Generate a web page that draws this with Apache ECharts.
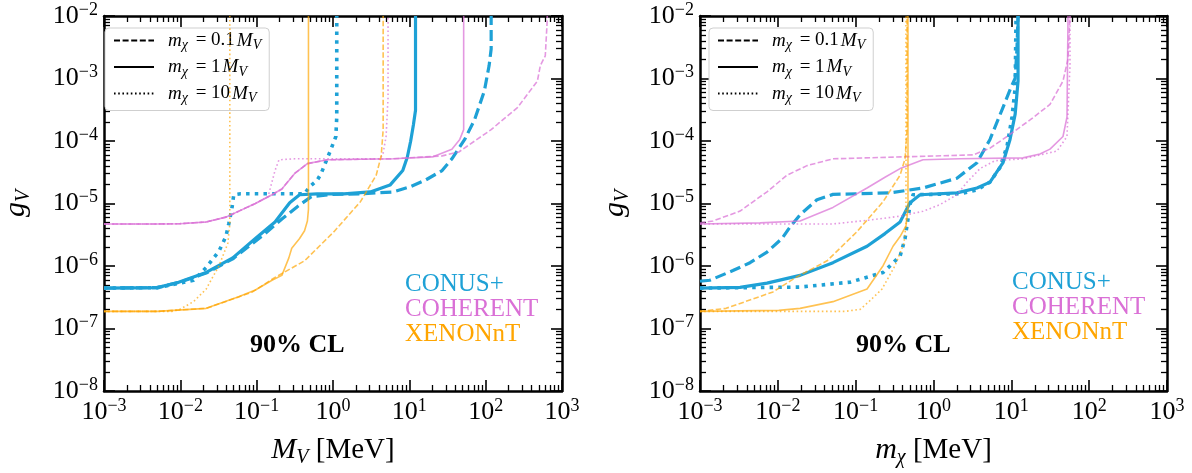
<!DOCTYPE html>
<html><head><meta charset="utf-8">
<script src="https://cdn.jsdelivr.net/npm/echarts@6/dist/echarts.min.js"></script>
<style>html,body{margin:0;padding:0;background:#fff}#c{width:1192px;height:473px}</style>
</head><body><div id="c"></div><script>
// ---------------- data (x in MeV, y = g_V) ----------------
const X_TICK_EXP = [-3,-2,-1,0,1,2,3];
const Y_TICK_EXP = [-8,-7,-6,-5,-4,-3,-2];
const MINOR_MULT = [2,3,4,5,6,7,8,9];
const X_DECADES = [-3,-2,-1,0,1,2];
const Y_DECADES = [-8,-7,-6,-5,-4,-3];
const LEGEND_COEF = ['0.1','1','10'];
const EXPERIMENTS = ['CONUS+','COHERENT','XENONnT'];

// Left panel: x = M_V
const L_conus_dash = [[1e-3,4.43e-7],[5e-3,4.5e-7],[9.5e-3,5.45e-7],[0.0218,7.7e-7],[0.0486,1.3e-6],[0.0962,2.5e-6],[0.129,3.3e-6],[0.214,5.64e-6],[0.344,8.97e-6],[0.521,1.29e-5],[1.0,1.4e-5],[2.29,1.43e-5],[6.1,1.53e-5],[10.1,1.84e-5],[16.2,2.36e-5],[26.9,3.37e-5],[36.1,5.19e-5],[53.1,1.06e-4],[71.4,2.17e-4],[96.2,6.35e-4],[111,1.61e-3],[118,2.96e-3],[118,1e-2]];
const L_conus_solid = [[1e-3,4.43e-7],[5e-3,4.5e-7],[9.5e-3,5.5e-7],[0.0218,7.9e-7],[0.0486,1.35e-6],[0.0962,2.75e-6],[0.174,5.06e-6],[0.271,1.03e-5],[0.365,1.38e-5],[0.62,1.43e-5],[1.39,1.43e-5],[3.08,1.53e-5],[5.58,1.97e-5],[8.2,3.37e-5],[9.4,5.5e-5],[10.4,9.9e-5],[11.3,1.8e-4],[12.05,3.1e-4],[12.05,1e-2]];
const L_conus_dot = [[1e-3,4.43e-7],[5e-3,4.5e-7],[9.8e-3,5.3e-7],[0.0149,5.92e-7],[0.0218,9.42e-7],[0.0321,1.73e-6],[0.0395,2.96e-6],[0.0431,4.71e-6],[0.0472,8.07e-6],[0.0501,1.38e-5],[0.0617,1.43e-5],[0.424,1.43e-5],[0.491,1.84e-5],[0.622,2.36e-5],[0.700,3.03e-5],[0.942,7.41e-5],[1.09,1.18e-4],[1.12,2.42e-4],[1.12,1e-2]];
const L_coh_dash = [[1e-3,4.71e-6],[5e-3,4.71e-6],[0.0098,4.75e-6],[0.0218,5.06e-6],[0.0395,6.05e-6],[0.0962,1.0e-5],[0.159,1.38e-5],[0.214,1.71e-5],[0.315,3.03e-5],[0.462,4.34e-5],[0.838,5.0e-5],[6.1,5.19e-5],[26.9,5.78e-5],[44.5,6.67e-5],[118,1.52e-4],[263,3.46e-4],[476,9.1e-4],[520,1.61e-3],[604,2.31e-3],[641,8.67e-3],[641,1e-2]];
const L_coh_solid = [[1e-3,4.71e-6],[5e-3,4.71e-6],[0.0098,4.75e-6],[0.0218,5.06e-6],[0.0395,6.05e-6],[0.0962,1.0e-5],[0.159,1.38e-5],[0.214,1.71e-5],[0.315,3.03e-5],[0.462,4.34e-5],[0.838,5.0e-5],[6.1,5.19e-5],[20,5.57e-5],[36.1,7.41e-5],[45.8,1.06e-4],[51.5,1.52e-4],[51.5,4.94e-4],[51.5,1e-2]];
const L_coh_dot = [[1e-3,4.71e-6],[5e-3,4.71e-6],[0.0098,4.75e-6],[0.0218,5.06e-6],[0.0395,6.05e-6],[0.0962,1.0e-5],[0.141,1.29e-5],[0.174,3.37e-5],[0.196,5.0e-5],[0.315,5.19e-5],[4.15,5.19e-5],[4.54,6.43e-5],[4.96,1.18e-4],[5.26,4.94e-4],[5.26,1e-2]];
const L_xe_dash = [[1e-3,1.88e-7],[5e-3,1.88e-7],[0.0218,2.1e-7],[0.058,3.2e-7],[0.0882,3.85e-7],[0.174,6.57e-7],[0.424,1.21e-6],[1.03,3.54e-6],[2.29,1.07e-5],[3.68,2.83e-5],[4.28,5.78e-5],[4.54,1.52e-4],[4.54,1e-2]];
const L_xe_solid = [[1e-3,1.88e-7],[5e-3,1.88e-7],[0.0218,2.1e-7],[0.058,3.22e-7],[0.0962,4.13e-7],[0.159,5.92e-7],[0.214,7.08e-7],[0.264,1.35e-6],[0.288,1.93e-6],[0.365,2.75e-6],[0.424,3.67e-6],[0.462,5.25e-6],[0.477,8.07e-6],[0.477,1e-2]];
const L_xe_dot = [[1e-3,1.88e-7],[7.73e-3,1.88e-7],[0.0098,2.02e-7],[0.0149,2.69e-7],[0.0218,4.28e-7],[0.0321,1.01e-6],[0.0419,2.31e-6],[0.0445,4.71e-6],[0.0445,1e-2]];

// Right panel: x = m_chi
const R_conus_dash = [[1e-3,5.7e-7],[1.34e-3,5.92e-7],[2.65e-3,8.45e-7],[4.39e-3,1.13e-6],[7.26e-3,1.67e-6],[0.0113,2.75e-6],[0.0143,4.2e-6],[0.0193,6.6e-6],[0.0318,1.15e-5],[0.0511,1.4e-5],[0.276,1.48e-5],[0.733,1.77e-5],[2.0,2.54e-5],[3.62,4.5e-5],[5.32,1.06e-4],[7.82,3.46e-4],[10.2,7.87e-4],[11.2,1.01e-3],[11.8,2.96e-3],[12.2,1e-2]];
const R_conus_solid = [[1e-3,4.43e-7],[3.27e-3,4.54e-7],[7.26e-3,5.31e-7],[0.0193,7.08e-7],[0.0511,1.13e-6],[0.140,2.07e-6],[0.238,3.30e-6],[0.372,5.06e-6],[0.499,1.03e-5],[0.671,1.38e-5],[2.0,1.48e-5],[3.62,1.77e-5],[5.32,2.2e-5],[7.82,4.5e-5],[9.62,1.06e-4],[11.2,2.69e-4],[12.2,9.1e-4],[12.2,1e-2]];
const R_conus_dot = [[1e-3,4.43e-7],[0.0193,4.6e-7],[0.0846,5.51e-7],[0.225,7.87e-7],[0.372,1.44e-6],[0.431,2.75e-6],[0.470,5.64e-6],[0.499,9.6e-6],[0.546,1.38e-5],[2.19,1.43e-5],[3.62,1.65e-5],[5.32,2.2e-5],[7.16,3.76e-5],[8.81,8.26e-5],[10.2,2.42e-4],[11.2,7.08e-4],[11.5,1e-2]];
const R_coh_dash = [[1e-3,4.89e-6],[1.47e-3,5.25e-6],[3.27e-3,7.57e-6],[7.26e-3,1.54e-5],[0.0131,2.83e-5],[0.0237,4.04e-5],[0.0511,5.19e-5],[3.22,5.99e-5],[5.32,7.68e-5],[8.81,1.18e-4],[17.4,2.17e-4],[31.4,3.85e-4],[46.1,9.1e-4],[53.5,2.07e-3],[56.7,1e-2]];
const R_coh_solid = [[1e-3,4.71e-6],[5.9e-3,4.89e-6],[0.0193,5.25e-6],[0.0511,8.66e-6],[0.140,1.77e-5],[0.238,2.63e-5],[0.372,3.62e-5],[0.733,5.0e-5],[2.19,5.19e-5],[14.1,5.37e-5],[23.3,6.21e-5],[31.4,7.41e-5],[46.1,1.18e-4],[51.9,2.42e-4],[53.5,1e-2]];
const R_coh_dot = [[1e-3,4.71e-6],[0.0511,4.71e-6],[0.153,5.44e-6],[0.372,6.27e-6],[0.733,7.5e-6],[1.21,9.6e-6],[2.0,1.38e-5],[2.70,2.2e-5],[3.96,3.62e-5],[6.17,4.84e-5],[14.1,5.19e-5],[38.6,6.9e-5],[51.9,1.18e-4],[56.7,1.61e-3],[56.7,1e-2]];
const R_xe_dash = [[1e-3,1.88e-7],[2.16e-3,2.1e-7],[8.67e-3,3.85e-7],[0.0171,6.57e-7],[0.0429,1.21e-6],[0.104,3.54e-6],[0.225,1.07e-5],[0.372,2.83e-5],[0.431,5.19e-5],[0.457,1.52e-4],[0.457,1e-2]];
const R_xe_solid = [[1e-3,1.88e-7],[0.0103,1.95e-7],[0.0193,2.1e-7],[0.0511,2.69e-7],[0.140,4.28e-7],[0.225,1.01e-6],[0.302,2.07e-6],[0.372,2.96e-6],[0.443,4.39e-6],[0.470,8.07e-6],[0.470,1e-2]];
const R_xe_dot = [[1e-3,1.88e-7],[0.0729,1.88e-7],[0.114,2.02e-7],[0.148,2.69e-7],[0.218,4.28e-7],[0.320,1.01e-6],[0.418,2.31e-6],[0.443,4.71e-6],[0.443,1e-2]];

// ---------------- styling ----------------
const F = '"Liberation Serif","DejaVu Serif",serif';
const C_CONUS = '#1ea1d6';
const C_COH = 'rgba(218,112,214,0.72)';
const C_XE = 'rgba(255,165,0,0.68)';

const chart = echarts.init(document.getElementById('c'), null, {renderer:'canvas'});

function fmtExp(v){
  const e = Math.round(Math.log10(v));
  return '{b|10}{s|' + (e < 0 ? '\u2212' + (-e) : String(e)) + '}';
}
const tickRich = {
  b:{fontFamily:F, fontSize:26, lineHeight:30, color:'#000', verticalAlign:'middle'},
  s:{fontFamily:F, fontSize:18, lineHeight:19, color:'#000', verticalAlign:'top'}
};
const nameRich = {
  i:{fontFamily:F, fontStyle:'italic', fontSize:30, lineHeight:36, color:'#000', verticalAlign:'middle'},
  sub:{fontFamily:F, fontStyle:'italic', fontSize:20, lineHeight:22, color:'#000', verticalAlign:'bottom'},
  n:{fontFamily:F, fontSize:29, lineHeight:36, color:'#000', verticalAlign:'middle'}
};

const XLO = Math.pow(10, X_TICK_EXP[0]), XHI = Math.pow(10, X_TICK_EXP[X_TICK_EXP.length-1]);
const YLO = Math.pow(10, Y_TICK_EXP[0]), YHI = Math.pow(10, Y_TICK_EXP[Y_TICK_EXP.length-1]);

function minorVals(decs){
  const out = [];
  decs.forEach(d => MINOR_MULT.forEach(m => out.push(Number((m*Math.pow(10,d)).toPrecision(6)))));
  return out;
}
const XMINOR = minorVals(X_DECADES), YMINOR = minorVals(Y_DECADES);

function axisBase(extra){
  return Object.assign({
    type:'log', logBase:10, interval:1,
    axisLine:{show:true, onZero:false, lineStyle:{color:'#000', width:2.5}},
    axisTick:{show:true, inside:true, length:11, lineStyle:{color:'#000', width:1.6}},
    splitLine:{show:false}, minorTick:{show:false}, minorSplitLine:{show:false}
  }, extra);
}
// overlay axis that only carries the minor ticks (custom tick values on the log scale)
function minorAxis(extra, values){
  return Object.assign({
    type:'log', logBase:10, interval:1,
    axisLine:{show:false, onZero:false},
    axisTick:{show:true, inside:true, length:6, customValues:values, lineStyle:{color:'#000', width:1.3}},
    axisLabel:{show:false}, splitLine:{show:false}, minorTick:{show:false}
  }, extra);
}
// ECharts moves a repeated position to the opposite side, so the request order
// bottom, top, top, bottom yields bottom, top, bottom, top (same for left/right).
function xAxesFor(grid, nameStr){
  const ext = {min:XLO, max:XHI};
  return [
    axisBase(Object.assign({gridIndex:grid, position:'bottom',
      name:nameStr, nameLocation:'middle', nameGap:41,
      nameTextStyle:{rich:nameRich},
      axisLabel:{show:true, margin:6, formatter:fmtExp, rich:tickRich}}, ext)),
    axisBase(Object.assign({gridIndex:grid, position:'top', axisLabel:{show:false}}, ext)),
    minorAxis(Object.assign({gridIndex:grid, position:'top'}, ext), XMINOR),
    minorAxis(Object.assign({gridIndex:grid, position:'bottom'}, ext), XMINOR)
  ];
}
function yAxesFor(grid, nameGap){
  const ext = {min:YLO, max:YHI};
  return [
    axisBase(Object.assign({gridIndex:grid, position:'left',
      name:'{i|g}{sub|V}', nameLocation:'middle', nameGap:nameGap,
      nameTextStyle:{rich:nameRich},
      axisLabel:{show:true, margin:6, formatter:fmtExp, rich:tickRich}}, ext)),
    axisBase(Object.assign({gridIndex:grid, position:'right', axisLabel:{show:false}}, ext)),
    minorAxis(Object.assign({gridIndex:grid, position:'right'}, ext), YMINOR),
    minorAxis(Object.assign({gridIndex:grid, position:'left'}, ext), YMINOR)
  ];
}

function ln(data, xi, yi, color, width, type, z){
  return {type:'line', data:data, xAxisIndex:xi, yAxisIndex:yi, symbol:'none', showSymbol:false,
    silent:true, animation:false, z:z,
    lineStyle:{color:color, width:width, type:type, cap:'butt', join:'round'}};
}
const THICK = 3.2, THIN = 1.6;
const DASH_T = [11,5], DOT_T = [3.5,5.2], DASH_N = [5.5,2.4], DOT_N = [1.6,2.6];

function panelSeries(xi, yi, S){
  return [
    ln(S.conus_solid, xi, yi, C_CONUS, THICK, 'solid', 3),
    ln(S.conus_dash, xi, yi, C_CONUS, THICK, DASH_T, 3),
    ln(S.conus_dot, xi, yi, C_CONUS, 3.6, DOT_T, 3),
    ln(S.coh_solid, xi, yi, C_COH, THIN, 'solid', 4),
    ln(S.coh_dash, xi, yi, C_COH, THIN, DASH_N, 4),
    ln(S.coh_dot, xi, yi, C_COH, THIN, DOT_N, 4),
    ln(S.xe_solid, xi, yi, C_XE, THIN, 'solid', 5),
    ln(S.xe_dash, xi, yi, C_XE, THIN, DASH_N, 5),
    ln(S.xe_dot, xi, yi, C_XE, THIN, DOT_N, 5)
  ];
}

const legendNames = ['L1','L2','L3'];
const legendSeries = [
  {type:'line', name:'L1', data:[], xAxisIndex:0, yAxisIndex:0, symbol:'none', itemStyle:{color:'#000'}, lineStyle:{color:'#000', width:1.8, type:[6,2.6]}},
  {type:'line', name:'L2', data:[], xAxisIndex:0, yAxisIndex:0, symbol:'none', itemStyle:{color:'#000'}, lineStyle:{color:'#000', width:1.8, type:'solid'}},
  {type:'line', name:'L3', data:[], xAxisIndex:0, yAxisIndex:0, symbol:'none', itemStyle:{color:'#000'}, lineStyle:{color:'#000', width:1.8, type:[1.6,2.6]}}
];
function legendFmt(name){
  const k = LEGEND_COEF[legendNames.indexOf(name)];
  return '{i|m}{s|\u03c7}{n| = ' + k + '}{i|M}{s|V}';
}
const legendRich = {
  i:{fontFamily:F, fontStyle:'italic', fontSize:19, lineHeight:24, color:'#000'},
  s:{fontFamily:F, fontStyle:'italic', fontSize:14, lineHeight:24, color:'#000', verticalAlign:'bottom'},
  n:{fontFamily:F, fontSize:19, lineHeight:24, color:'#000', padding:[0,2,0,3]}
};
function legendAt(left){
  return {show:true, orient:'vertical', left:left, top:28, data:legendNames, selectedMode:false,
    itemWidth:40, itemHeight:14, itemGap:5, padding:[3,8,5,8],
    itemStyle:{opacity:0, color:'transparent', borderWidth:0},
    backgroundColor:'#fff', borderColor:'#cfcfcf', borderWidth:1, borderRadius:4,
    formatter:legendFmt, textStyle:{rich:legendRich, padding:[0,0,0,9]}};
}

function txt(left, top, s, color, bold, size){
  return {type:'text', left:left, top:top, silent:true, z:50,
    style:{text:s, fill:color, font:(bold?'bold ':'') + (size||24) + 'px ' + F}};
}

const option = {
  animation:false,
  backgroundColor:'#fff',
  grid:[
    {left:96, top:16, width:466, height:386, containLabel:false},
    {left:700, top:16, width:467, height:386, containLabel:false}
  ],
  xAxis:[].concat(xAxesFor(0, '{i|M}{sub|V}{n| [MeV]}'), xAxesFor(1, '{i|m}{sub|\u03c7}{n| [MeV]}')),
  yAxis:[].concat(yAxesFor(0, 70), yAxesFor(1, 67)),
  legend:[legendAt(105), legendAt(709)],
  series:[].concat(
    legendSeries,
    panelSeries(0, 0, {conus_solid:L_conus_solid, conus_dash:L_conus_dash, conus_dot:L_conus_dot,
      coh_solid:L_coh_solid, coh_dash:L_coh_dash, coh_dot:L_coh_dot,
      xe_solid:L_xe_solid, xe_dash:L_xe_dash, xe_dot:L_xe_dot}),
    panelSeries(4, 4, {conus_solid:R_conus_solid, conus_dash:R_conus_dash, conus_dot:R_conus_dot,
      coh_solid:R_coh_solid, coh_dash:R_coh_dash, coh_dot:R_coh_dot,
      xe_solid:R_xe_solid, xe_dash:R_xe_dash, xe_dot:R_xe_dot})
  ),
  graphic:[
    txt(405, 272, EXPERIMENTS[0], C_CONUS, false, 25), txt(405, 297, EXPERIMENTS[1], 'rgb(218,112,214)', false, 25), txt(405, 322, EXPERIMENTS[2], 'rgb(255,165,0)', false, 25),
    txt(1012, 270, EXPERIMENTS[0], C_CONUS, false, 25), txt(1012, 295, EXPERIMENTS[1], 'rgb(218,112,214)', false, 25), txt(1012, 320, EXPERIMENTS[2], 'rgb(255,165,0)', false, 25),
    txt(250, 332, '90% CL', '#000', true, 26), txt(856, 332, '90% CL', '#000', true, 26)
  ]
};
chart.setOption(option);
</script></body></html>
